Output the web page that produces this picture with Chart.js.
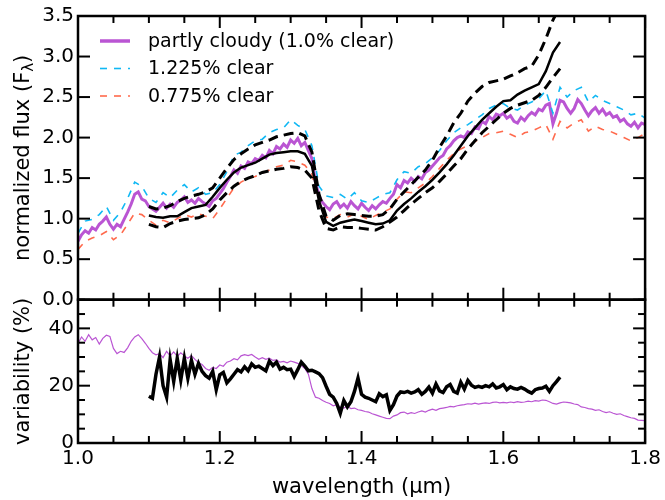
<!DOCTYPE html>
<html>
<head>
<meta charset="utf-8">
<title>partly cloudy spectrum</title>
<script src="https://cdn.jsdelivr.net/npm/chart.js@4.4.1/dist/chart.umd.min.js"></script>
<style>
  body { margin: 0; background: #ffffff; }
  canvas { display: block; }
</style>
</head>
<body>
<canvas id="chart" width="665" height="500"></canvas>
<script>
// wavelength grids (micron)
var waveFine = [
  1.000,1.005,1.010,1.015,1.020,1.025,1.030,1.035,1.040,1.045,
  1.050,1.055,1.060,1.065,1.070,1.075,1.080,1.085,1.090,1.095,
  1.100,1.105,1.110,1.115,1.120,1.125,1.130,1.135,1.140,1.145,
  1.150,1.155,1.160,1.165,1.170,1.175,1.180,1.185,1.190,1.195,
  1.200,1.205,1.210,1.215,1.220,1.225,1.230,1.235,1.240,1.245,
  1.250,1.255,1.260,1.265,1.270,1.275,1.280,1.285,1.290,1.295,
  1.300,1.305,1.310,1.315,1.320,1.325,1.330,1.335,1.340,1.345,
  1.350,1.355,1.360,1.365,1.370,1.375,1.380,1.385,1.390,1.395,
  1.400,1.405,1.410,1.415,1.420,1.425,1.430,1.435,1.440,1.445,
  1.450,1.455,1.460,1.465,1.470,1.475,1.480,1.485,1.490,1.495,
  1.500,1.505,1.510,1.515,1.520,1.525,1.530,1.535,1.540,1.545,
  1.550,1.555,1.560,1.565,1.570,1.575,1.580,1.585,1.590,1.595,
  1.600,1.605,1.610,1.615,1.620,1.625,1.630,1.635,1.640,1.645,
  1.650,1.655,1.660,1.665,1.670,1.675,1.680,1.685,1.690,1.695,
  1.700,1.705,1.710,1.715,1.720,1.725,1.730,1.735,1.740,1.745,
  1.750,1.755,1.760,1.765,1.770,1.775,1.780,1.785,1.790,1.795,
  1.800
]
var waveCoarse = [
  1.00,1.01,1.02,1.03,1.04,1.05,1.06,1.07,1.08,1.09,
  1.10,1.11,1.12,1.13,1.14,1.15,1.16,1.17,1.18,1.19,
  1.20,1.21,1.22,1.23,1.24,1.25,1.26,1.27,1.28,1.29,
  1.30,1.31,1.32,1.33,1.34,1.35,1.36,1.37,1.38,1.39,
  1.40,1.41,1.42,1.43,1.44,1.45,1.46,1.47,1.48,1.49,
  1.50,1.51,1.52,1.53,1.54,1.55,1.56,1.57,1.58,1.59,
  1.60,1.61,1.62,1.63,1.64,1.65,1.66,1.67,1.68,1.69,
  1.70,1.71,1.72,1.73,1.74,1.75,1.76,1.77,1.78,1.79,
  1.80
]
var waveModel = waveCoarse.slice(10, 69)   // 1.10 .. 1.68
var waveVar = waveFine.slice(20, 137)      // 1.100 .. 1.680

// top panel: normalized flux
var fluxCloudy = [
  0.72,0.80,0.85,0.82,0.89,0.86,0.93,0.97,1.02,0.93,
  0.87,0.93,0.90,0.99,1.08,1.18,1.30,1.33,1.24,1.22,
  1.15,1.12,1.09,1.14,1.19,1.13,1.18,1.14,1.20,1.23,
  1.27,1.20,1.23,1.19,1.25,1.21,1.18,1.15,1.22,1.25,
  1.31,1.37,1.45,1.52,1.60,1.56,1.65,1.62,1.70,1.68,
  1.74,1.72,1.78,1.75,1.84,1.80,1.89,1.86,1.92,1.88,
  1.97,1.93,1.99,1.90,1.94,1.84,1.74,1.45,1.28,1.20,
  1.15,1.11,1.18,1.21,1.14,1.18,1.13,1.21,1.16,1.12,
  1.19,1.14,1.10,1.16,1.12,1.17,1.21,1.19,1.25,1.30,
  1.42,1.38,1.47,1.44,1.50,1.46,1.52,1.49,1.57,1.60,
  1.65,1.70,1.75,1.78,1.86,1.90,1.96,2.00,2.02,2.00,
  2.07,2.05,2.13,2.11,2.20,2.17,2.26,2.22,2.29,2.27,
  2.30,2.24,2.27,2.20,2.18,2.25,2.21,2.27,2.31,2.28,
  2.35,2.33,2.40,2.42,2.17,2.30,2.46,2.44,2.36,2.30,
  2.36,2.47,2.42,2.34,2.27,2.33,2.37,2.30,2.35,2.28,
  2.31,2.25,2.27,2.20,2.23,2.17,2.14,2.19,2.12,2.18,
  2.16
]
var fluxClearHigh = [
  0.82,0.97,0.99,1.05,1.15,0.98,1.08,1.25,1.45,1.40,
  1.25,1.20,1.32,1.26,1.35,1.42,1.33,1.38,1.30,1.32,
  1.42,1.58,1.78,1.82,1.90,1.96,1.98,2.06,2.10,2.12,
  2.22,2.15,2.10,1.90,1.40,1.28,1.26,1.30,1.24,1.32,
  1.22,1.20,1.25,1.30,1.32,1.48,1.58,1.56,1.64,1.68,
  1.75,1.84,1.96,2.06,2.12,2.16,2.22,2.28,2.36,2.40,
  2.42,2.36,2.34,2.40,2.44,2.48,2.58,2.30,2.62,2.50,
  2.58,2.62,2.44,2.52,2.46,2.42,2.38,2.34,2.28,2.30,
  2.24
]
var fluxClearLow = [
  0.62,0.72,0.76,0.79,0.84,0.74,0.80,0.93,1.07,1.05,
  0.98,0.92,0.98,0.95,1.00,1.05,1.02,1.06,1.03,1.00,
  1.12,1.25,1.38,1.45,1.50,1.52,1.56,1.60,1.64,1.66,
  1.72,1.70,1.66,1.55,1.15,1.02,1.00,1.05,1.02,1.06,
  1.03,0.99,1.04,1.08,1.12,1.24,1.33,1.32,1.38,1.44,
  1.52,1.62,1.72,1.80,1.86,1.90,1.95,2.00,2.05,2.06,
  2.08,2.04,2.00,2.06,2.08,2.12,2.16,1.98,2.20,2.12,
  2.18,2.22,2.08,2.14,2.10,2.08,2.04,2.00,1.96,2.00,
  2.05
]
var fluxModel = [
  1.04,1.02,1.01,1.03,1.03,1.08,1.13,1.15,1.17,1.27,
  1.38,1.48,1.57,1.63,1.66,1.69,1.74,1.79,1.81,1.82,
  1.83,1.83,1.80,1.65,1.22,0.96,0.91,0.95,0.97,0.99,
  0.97,0.95,0.93,0.94,0.98,1.10,1.18,1.25,1.33,1.40,
  1.48,1.57,1.67,1.78,1.90,2.02,2.12,2.22,2.30,2.38,
  2.45,2.46,2.53,2.58,2.62,2.66,2.82,3.05,3.18
]
var fluxModelHigh = [
  1.15,1.12,1.13,1.16,1.21,1.25,1.28,1.30,1.33,1.38,
  1.50,1.62,1.73,1.80,1.86,1.91,1.94,1.97,2.01,2.03,
  2.05,2.06,2.02,1.82,1.30,1.03,0.98,1.04,1.06,1.05,
  1.04,1.03,1.03,1.05,1.12,1.24,1.33,1.42,1.51,1.60,
  1.72,1.88,2.02,2.18,2.30,2.45,2.55,2.63,2.68,2.70,
  2.72,2.76,2.80,2.85,2.88,3.02,3.22,3.45,3.62
]
var fluxModelLow = [
  0.93,0.90,0.89,0.94,0.97,0.99,1.00,1.01,1.05,1.12,
  1.23,1.32,1.40,1.46,1.50,1.53,1.57,1.59,1.61,1.62,
  1.64,1.63,1.60,1.50,1.10,0.88,0.86,0.90,0.89,0.89,
  0.88,0.87,0.86,0.90,0.96,1.02,1.10,1.18,1.25,1.32,
  1.38,1.46,1.55,1.65,1.74,1.86,1.96,2.06,2.14,2.22,
  2.30,2.36,2.40,2.43,2.46,2.52,2.62,2.74,2.85
]

// bottom panel: variability (%)
var varCloudy = [
  34.7,37.0,35.5,37.8,36.0,36.8,34.5,36.5,37.6,37.2,
  33.0,31.2,32.0,31.6,33.2,35.5,37.0,37.8,36.4,34.8,
  33.0,31.5,30.8,31.2,29.8,32.0,30.4,31.8,30.2,31.5,
  30.4,29.6,30.5,29.2,28.0,27.4,26.0,25.4,26.4,26.0,
  27.2,26.8,28.2,28.6,29.4,29.0,30.4,30.8,30.5,30.9,
  30.0,29.2,29.8,29.2,29.6,28.8,29.0,28.2,28.5,28.0,
  28.6,28.2,27.8,27.0,26.0,24.0,19.0,16.0,15.6,14.8,
  14.2,13.8,13.0,13.4,12.6,12.2,12.8,12.0,12.2,11.6,
  11.4,11.0,10.8,10.2,9.8,9.4,9.0,8.6,8.5,9.4,
  9.8,10.6,10.8,10.2,10.6,10.3,10.8,11.2,10.8,11.4,
  11.8,11.4,12.0,12.2,12.4,12.8,12.6,13.0,13.2,13.4,
  13.7,13.6,13.9,13.6,13.8,14.0,13.8,14.2,14.3,14.0,
  14.2,14.0,14.3,14.1,14.4,14.2,14.3,14.6,14.4,14.8,
  14.6,15.0,14.9,14.4,13.8,13.6,14.0,14.3,14.2,14.0,
  13.6,13.4,12.6,12.4,12.0,11.8,11.4,11.6,11.0,10.6,
  10.9,10.4,10.0,10.2,9.6,9.2,8.8,8.6,8.0,7.9,
  7.8
]
var varObserved = [
  16.3,15.6,24.0,30.0,20.0,16.0,29.0,21.5,29.5,22.0,
  29.6,22.6,28.8,24.0,27.8,25.0,23.5,22.6,25.0,18.6,
  23.8,24.6,21.0,22.4,24.0,25.6,24.8,26.6,25.2,27.6,
  26.4,26.8,26.0,25.2,28.6,27.0,28.2,25.8,26.4,25.6,
  25.8,23.2,25.6,28.2,26.8,25.2,25.4,24.8,24.2,22.8,
  19.8,17.0,16.0,13.8,10.4,14.8,12.6,14.4,18.0,22.6,
  17.0,16.0,15.6,15.0,14.4,17.2,16.2,16.8,11.4,13.4,
  16.4,17.8,17.6,18.0,17.4,17.8,18.6,17.0,18.0,19.5,
  17.4,20.6,18.2,17.6,19.6,20.4,18.0,17.4,21.2,18.8,
  21.8,20.2,19.4,19.8,19.4,20.0,19.6,20.6,19.2,19.6,
  20.4,18.6,19.6,19.0,18.8,19.4,18.8,18.0,17.4,18.6,
  19.0,19.2,19.8,18.0,20.0,21.4,23.0
]

var FONT = '"DejaVu Sans", sans-serif'
var PURPLE = '#ba55d3'
var CYAN = '#10b8f4'
var SALMON = '#ff6a4d'

function pairUp(xs, ys) {
    return xs.map(function (x, i) { return {x: x, y: ys[i]}; });
}

function line(ctx, x1, y1, x2, y2) {
    ctx.beginPath();
    ctx.moveTo(x1, y1);
    ctx.lineTo(x2, y2);
    ctx.stroke();
}

// inward ticks on all four sides of both panels, plus the frames
var frameTicks = {
    id: 'frameTicks',
    afterDatasetsDraw: function (chart) {
        var ctx = chart.ctx;
        var xs = chart.scales.x;
        var panels = [[chart.scales.yFlux, 0.5, 0.5], [chart.scales.yVar, 5, 20]];
        ctx.save();
        ctx.strokeStyle = '#000';
        panels.forEach(function (p) {
            var ys = p[0], minorStep = p[1], majorStep = p[2];
            var top = ys.top, bottom = ys.bottom, left = xs.left, right = xs.right;
            ctx.lineWidth = 2;
            var nx = Math.round((xs.max - xs.min) / 0.05);
            for (var k = 0; k <= nx; k++) {
                var px = xs.getPixelForValue(xs.min + k * 0.05);
                var len = (k % 4 === 0) ? 12 : 7;
                line(ctx, px, bottom, px, bottom - len);
                line(ctx, px, top, px, top + len);
            }
            var ny = Math.round((ys.max - ys.min) / minorStep);
            for (var j = 0; j <= ny; j++) {
                var v = ys.min + j * minorStep;
                var py = ys.getPixelForValue(v);
                var r = v / majorStep;
                var ylen = Math.abs(r - Math.round(r)) < 1e-6 ? 12 : 7;
                line(ctx, left, py, left + ylen, py);
                line(ctx, right, py, right - ylen, py);
            }
            ctx.lineWidth = 2.5;
            ctx.strokeRect(left, top, right - left, bottom - top);
        });
        ctx.restore();
    }
}

// legend in the upper left of the flux panel
var legendLabels = ['partly cloudy (1.0% clear)', '1.225% clear', '0.775% clear']
var cornerLegend = {
    id: 'cornerLegend',
    afterDraw: function (chart) {
        var ctx = chart.ctx;
        var area = chart.chartArea;
        ctx.save();
        legendLabels.forEach(function (label, i) {
            var ds = chart.data.datasets.filter(function (d) { return d.label === label; })[0];
            var y = area.top + 25 + i * 27.5;
            ctx.strokeStyle = ds.borderColor;
            ctx.lineWidth = i === 0 ? 3.5 : 1.6;
            ctx.setLineDash(ds.borderDash || []);
            line(ctx, area.left + 22, y, area.left + 52, y);
            ctx.setLineDash([]);
            ctx.fillStyle = '#000';
            ctx.font = '19px ' + FONT;
            ctx.textBaseline = 'middle';
            ctx.fillText(label, area.left + 70, y + 1);
        });
        ctx.restore();
    }
}

// y title of the flux panel, with a subscript lambda
var fluxTitle = {
    id: 'fluxTitle',
    afterDraw: function (chart) {
        var ctx = chart.ctx;
        var ys = chart.scales.yFlux;
        var parts = [['normalized flux (F', 21, 0], ['\u03bb', 15, 5], [')', 21, 0]];
        ctx.save();
        var total = 0;
        parts.forEach(function (p) {
            ctx.font = p[1] + 'px ' + FONT;
            p.push(ctx.measureText(p[0]).width);
            total += p[3];
        });
        ctx.translate(24, (ys.top + ys.bottom) / 2);
        ctx.rotate(-Math.PI / 2);
        ctx.fillStyle = '#000';
        ctx.textBaseline = 'middle';
        var x = -total / 2;
        parts.forEach(function (p) {
            ctx.font = p[1] + 'px ' + FONT;
            ctx.fillText(p[0], x, p[2]);
            x += p[3];
        });
        ctx.restore();
    }
}

function flatLine(label, data, axis, color, width, dash) {
    return {
        label: label,
        data: data,
        yAxisID: axis,
        borderColor: color,
        backgroundColor: color,
        borderWidth: width,
        borderDash: dash || [],
        pointRadius: 0,
        tension: 0,
        fill: false
    };
}

var datasets = [
    flatLine('variability (observed)', pairUp(waveVar, varObserved), 'yVar', '#000', 3.5),
    flatLine('variability (partly cloudy)', pairUp(waveFine, varCloudy), 'yVar', PURPLE, 1.2),
    flatLine('model', pairUp(waveModel, fluxModel), 'yFlux', '#000', 2.5),
    flatLine('model high', pairUp(waveModel, fluxModelHigh), 'yFlux', '#000', 3, [10, 6]),
    flatLine('model low', pairUp(waveModel, fluxModelLow), 'yFlux', '#000', 3, [10, 6]),
    flatLine('0.775% clear', pairUp(waveCoarse, fluxClearLow), 'yFlux', SALMON, 1.6, [7, 7]),
    flatLine('1.225% clear', pairUp(waveCoarse, fluxClearHigh), 'yFlux', CYAN, 1.6, [7, 7]),
    flatLine('partly cloudy (1.0% clear)', pairUp(waveFine, fluxCloudy), 'yFlux', PURPLE, 3)
]

var tickFont = {family: FONT, size: 20}

var chart = new Chart(document.getElementById('chart').getContext('2d'), {
    type: 'line',
    data: {datasets: datasets},
    options: {
        responsive: false,
        animation: false,
        devicePixelRatio: 1,
        layout: {padding: {left: 0, right: 5, top: 6, bottom: 0}},
        plugins: {legend: {display: false}, tooltip: {enabled: false}},
        scales: {
            x: {
                type: 'linear',
                position: 'bottom',
                min: 1.0,
                max: 1.8,
                grid: {display: false, drawTicks: false},
                border: {display: false},
                ticks: {
                    stepSize: 0.2,
                    padding: 4,
                    maxRotation: 0,
                    autoSkip: false,
                    color: '#000',
                    font: tickFont,
                    callback: function (v) { return v.toFixed(1); }
                },
                title: {
                    display: true,
                    text: 'wavelength (\u03bcm)',
                    color: '#000',
                    font: {family: FONT, size: 21},
                    padding: {top: 0, bottom: 0}
                },
                afterFit: function (s) { s.height = 57; }
            },
            yVar: {
                type: 'linear',
                position: 'left',
                stack: 'panels',
                stackWeight: 1,
                min: 0,
                max: 50,
                grid: {display: false, drawTicks: false},
                border: {display: false},
                ticks: {
                    stepSize: 20,
                    includeBounds: false,
                    autoSkip: false,
                    padding: 4,
                    color: '#000',
                    font: tickFont
                },
                title: {
                    display: true,
                    text: 'variability (%)',
                    color: '#000',
                    font: {family: FONT, size: 21},
                    padding: {top: 11, bottom: 0}
                },
                afterFit: function (s) { s.width = 78; }
            },
            yFlux: {
                type: 'linear',
                position: 'left',
                stack: 'panels',
                stackWeight: 1.98,
                min: 0,
                max: 3.5,
                grid: {display: false, drawTicks: false},
                border: {display: false},
                ticks: {
                    stepSize: 0.5,
                    autoSkip: false,
                    padding: 4,
                    color: '#000',
                    font: tickFont,
                    callback: function (v) { return v.toFixed(1); }
                },
                afterFit: function (s) { s.width = 78; }
            }
        }
    },
    plugins: [frameTicks, cornerLegend, fluxTitle]
});
</script>
</body>
</html>
